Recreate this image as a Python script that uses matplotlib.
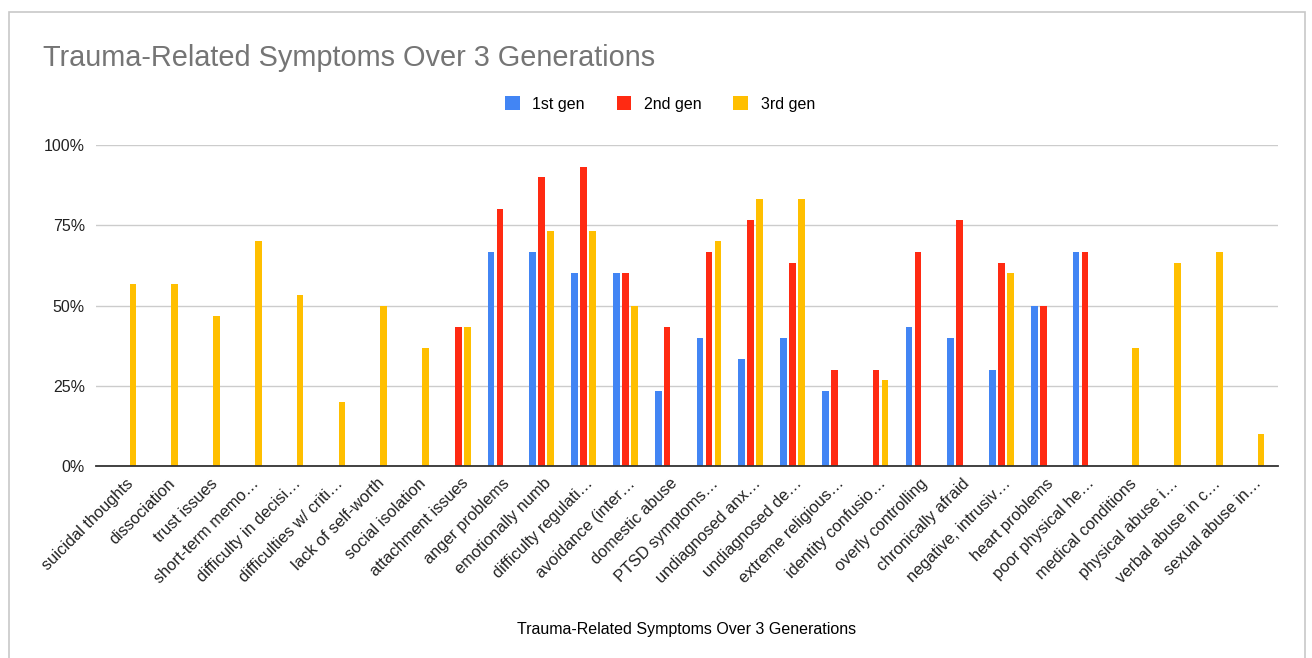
import numpy as np
import matplotlib.pyplot as plt
from matplotlib.patches import Rectangle
from matplotlib.ticker import FuncFormatter

plt.rcParams['font.family'] = ['Liberation Sans', 'DejaVu Sans']

symptoms = ['suicidal thoughts', 'dissociation', 'trust issues', 'short-term memo…',
            'difficulty in decisi…', 'difficulties w/ criti…', 'lack of self-worth',
            'social isolation', 'attachment issues', 'anger problems', 'emotionally numb',
            'difficulty regulati…', 'avoidance (inter…', 'domestic abuse', 'PTSD symptoms…',
            'undiagnosed anx…', 'undiagnosed de…', 'extreme religious…', 'identity confusio…',
            'overly controlling', 'chronically afraid', 'negative, intrusiv…', 'heart problems',
            'poor physical he…', 'medical conditions', 'physical abuse i…', 'verbal abuse in c…',
            'sexual abuse in…']

gen1 = [0, 0, 0, 0, 0, 0, 0, 0, 0, 66.7, 66.7, 60, 60, 23.3, 40, 33.3, 40, 23.3, 0,
        43.3, 40, 30, 50, 66.7, 0, 0, 0, 0]
gen2 = [0, 0, 0, 0, 0, 0, 0, 0, 43.3, 80, 90, 93.3, 60, 43.3, 66.7, 76.7, 63.3, 30, 30,
        66.7, 76.7, 63.3, 50, 66.7, 0, 0, 0, 0]
gen3 = [56.7, 56.7, 46.7, 70, 53.3, 20, 50, 36.7, 43.3, 0, 73.3, 73.3, 50, 0, 70, 83.3,
        83.3, 0, 26.7, 0, 0, 60, 0, 0, 36.7, 63.3, 66.7, 10]

series = [('1st gen', gen1, '#4285f4'), ('2nd gen', gen2, '#ff2a12'), ('3rd gen', gen3, '#ffbf00')]

fig = plt.figure(figsize=(13.12, 6.58), dpi=100)
fig.patches.append(Rectangle((9 / 1312, -0.01), 1296 / 1312, 1 - 12 / 658 + 0.01,
                             transform=fig.transFigure, fill=False, edgecolor='#c8c8c8', lw=1.2))

ax = fig.add_axes([96 / 1312, 1 - 466 / 658, 1182 / 1312, 321 / 658])
x = np.arange(len(symptoms))
off = 0.215
for i, (name, vals, col) in enumerate(series):
    ax.bar(x + (i - 1) * off, np.array(vals) / 100, width=0.16, color=col, label=name, zorder=3)

ax.set_xlim(-0.67, len(symptoms) - 0.38)
ax.set_ylim(0, 1)
ax.set_yticks([0, 0.25, 0.5, 0.75, 1.0])
ax.yaxis.set_major_formatter(FuncFormatter(lambda v, p: f'{v * 100:.0f}%'))
ax.grid(axis='y', color='#cccccc', lw=1, zorder=0)
for s in ['top', 'right', 'left']:
    ax.spines[s].set_visible(False)
ax.spines['bottom'].set_color('#333333')
ax.spines['bottom'].set_linewidth(1.3)
ax.spines['bottom'].set_zorder(4)
ax.tick_params(axis='y', length=0, pad=8, labelsize=11.5, labelcolor='#222222')
ax.tick_params(axis='x', length=0, pad=7, labelsize=11.8, labelcolor='#222222')
ax.set_xticks(x + 0.05)
ax.set_xticklabels(symptoms, rotation=45, ha='right', rotation_mode='anchor')
ax.set_xlabel('Trauma-Related Symptoms Over 3 Generations', fontsize=11.5, labelpad=26)

fig.text(43 / 1312, 1 - 58 / 658, 'Trauma-Related Symptoms Over 3 Generations',
         fontsize=20.8, color='#757575', va='center')
fig.legend(loc='center', bbox_to_anchor=(660 / 1312, 1 - 104 / 658), ncol=3, frameon=False,
           fontsize=11.5, handlelength=0.9, handleheight=0.9, columnspacing=2.0, handletextpad=0.8)

fig.savefig('out.png', dpi=100)
